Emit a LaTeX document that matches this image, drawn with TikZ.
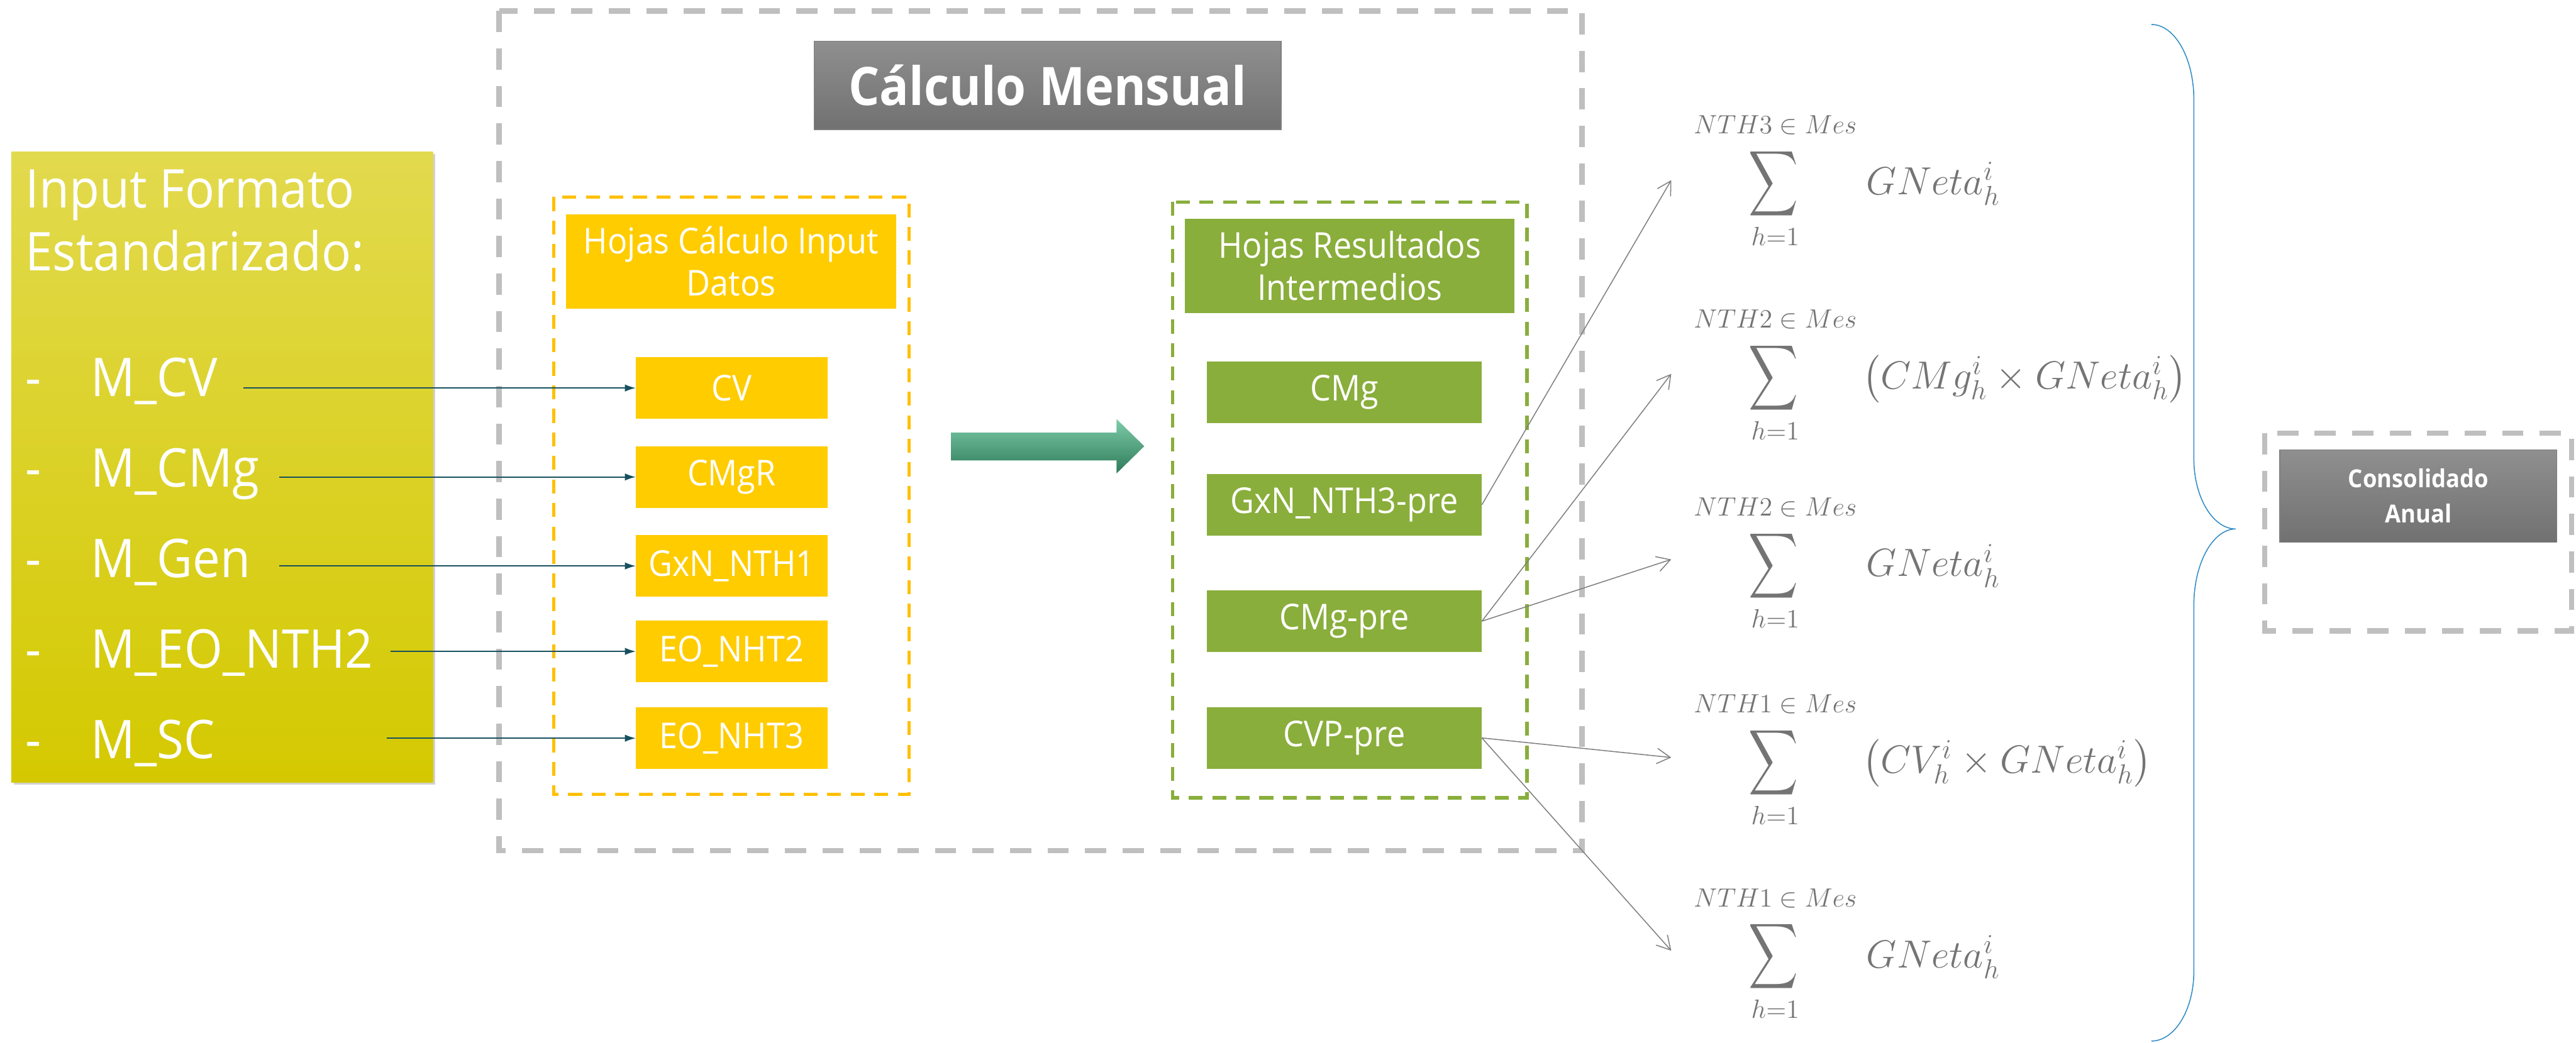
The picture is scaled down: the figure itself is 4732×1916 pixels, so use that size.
\RequirePackage{fix-cm}
\documentclass[tikz,border=0pt]{standalone}
\usepackage{amsmath}
\usepackage{graphicx}
\usepackage[no-math]{fontspec}
\setmainfont{Open Sans}[FakeStretch=0.92]
\usetikzlibrary{arrows.meta,shadows}

\definecolor{yfill}{HTML}{FFCC00}
\definecolor{ydash}{HTML}{FFC000}
\definecolor{gfill}{HTML}{89AE3B}
\definecolor{framegray}{HTML}{BFBFBF}
\definecolor{feedteal}{HTML}{17505E}
\definecolor{linkgray}{HTML}{7F7F7F}
\definecolor{mgray}{HTML}{747474}
\definecolor{bracecol}{HTML}{2E8BC4}
\definecolor{ytop}{HTML}{E2DA4E}
\definecolor{ymid}{HTML}{E2D91E}
\definecolor{ybot}{HTML}{D4C900}
\definecolor{hdtop}{HTML}{8F8F8F}
\definecolor{hdbot}{HTML}{717171}
\definecolor{artop}{HTML}{7ECBA8}
\definecolor{arbot}{HTML}{2E7B5A}

% summation sign stretched to the tall, narrow shape used in the formulas
\newcommand{\bigsum}{\resizebox*{0.91cm}{1.34cm}{$\displaystyle\sum$}}

\begin{document}
\begin{tikzpicture}[x=0.01cm,y=-0.01cm,
  box/.style={rectangle, inner sep=0pt, outer sep=0pt, text=white, align=center},
  sheet/.style={box, font=\fontsize{18.6}{22}\selectfont},
  ysheet/.style={sheet, fill=yfill, minimum width=3.52cm, minimum height=1.13cm},
  gsheet/.style={sheet, fill=gfill, minimum width=5.05cm, minimum height=1.13cm},
  yhead/.style={sheet, fill=yfill, minimum width=6.06cm, minimum height=1.73cm},
  ghead/.style={sheet, fill=gfill, minimum width=6.05cm, minimum height=1.73cm},
  titlebox/.style={box, top color=hdtop, bottom color=hdbot, draw=linkgray, line width=0.4pt},
  frame/.style={draw=framegray, line width=2.85pt, dash pattern=on 11.1pt off 8.5pt},
  yframe/.style={draw=ydash, line width=1.7pt, dash pattern=on 7.3pt off 5pt},
  gframe/.style={draw=gfill, line width=1.7pt, dash pattern=on 7.3pt off 5pt},
  itxt/.style={inner sep=0pt, anchor=base west, text=white, font=\fontsize{27.9}{33}\selectfont},
  feed/.style={draw=feedteal, line width=0.6pt, -{Latex[length=5.7pt,width=3.8pt]}},
  link/.style={draw=linkgray, line width=0.5pt, -{Straight Barb[length=7pt,width=8pt]}},
  mlab/.style={inner sep=0pt, anchor=base, text=mgray, font=\fontsize{13.8}{16}\selectfont},
  msig/.style={inner sep=0pt, text=mgray},
  mterm/.style={inner sep=0pt, anchor=base west, text=mgray, font=\fontsize{20.5}{24}\selectfont}
]
\useasboundingbox (0,0) rectangle (4732,1916);

% ---------- input block ----------
\node[box, minimum width=7.74cm, minimum height=11.58cm,
      top color=ytop, middle color=ymid, bottom color=ybot,
      drop shadow={shadow xshift=1.2pt, shadow yshift=-1.2pt, opacity=0.3, fill=black!60}]
      (input) at (408,858) {};
\node[itxt] (inA) at (46,382) {Input Formato};
\node[itxt] (inB) at (46,497) {Estandarizado:};
\node[itxt] (d1) at (46,728) {-};
\node[itxt] (d2) at (46,895) {-};
\node[itxt] (d3) at (46,1061) {-};
\node[itxt] (d4) at (46,1228) {-};
\node[itxt] (d5) at (46,1394) {-};
\node[itxt] (mcv)  at (166,728)  {M\_CV};
\node[itxt] (mcmg) at (166,895)  {M\_CMg};
\node[itxt] (mgen) at (166,1061) {M\_Gen};
\node[itxt] (meo)  at (166,1228) {M\_EO\_NTH2};
\node[itxt] (msc)  at (166,1394) {M\_SC};

% ---------- monthly calculation ----------
\draw[frame] (917,20) rectangle (2906,1563);
\node[titlebox, minimum width=8.57cm, minimum height=1.62cm,
      font=\fontsize{27.7}{32}\selectfont\bfseries] (mensual) at (1924.5,157) {Cálculo Mensual};

% input sheets
\draw[yframe] (1017,362) rectangle (1670,1460);
\node[yhead] (yh) at (1343,480.5) {Hojas Cálculo Input\\Datos};
\node[ysheet] (cv)   at (1344,713)    {CV};
\node[ysheet] (cmgr) at (1344,876.5)  {CMgR};
\node[ysheet] (gxn1) at (1344,1040)   {GxN\_NTH1};
\node[ysheet] (eo2)  at (1344,1197)   {EO\_NHT2};
\node[ysheet] (eo3)  at (1344,1356.5) {EO\_NHT3};

% intermediate results
\draw[gframe] (2154,371) rectangle (2805,1466);
\node[ghead] (gh) at (2479.5,488.5) {Hojas Resultados\\Intermedios};
\node[gsheet] (cmg)    at (2469.5,720.5)  {CMg};
\node[gsheet] (gxn3)   at (2469.5,927.5)  {GxN\_NTH3-pre};
\node[gsheet] (cmgpre) at (2469.5,1141.5) {CMg-pre};
\node[gsheet] (cvppre) at (2469.5,1356)   {CVP-pre};

% block arrow between the two sheet groups
\path[top color=artop, bottom color=arbot]
  (1747,795) -- (2051,795) -- (2051,770) -- (2102,820) -- (2051,870)
  -- (2051,846) -- (1747,846) -- cycle;

% feeds from the standard input files
\coordinate (s1) at (447,713);
\coordinate (s2) at (513,876.5);
\coordinate (s3) at (513,1040);
\coordinate (s4) at (717,1197);
\coordinate (s5) at (710,1356.5);
\draw[feed] (s1) -- (cv.west);
\draw[feed] (s2) -- (cmgr.west);
\draw[feed] (s3) -- (gxn1.west);
\draw[feed] (s4) -- (eo2.west);
\draw[feed] (s5) -- (eo3.west);

% ---------- monthly sums ----------
\node[mlab] (lab1) at (3261,246) {$NTH3\in Mes$};
\node[msig] (sig1) at (3258,337.5) {\bigsum};
\node[mlab] (lim1) at (3261,451) {$h{=}1$};
\node[mterm] (term1) at (3428,357) {$GNeta_h^i$};

\node[mlab] (lab2) at (3261,603) {$NTH2\in Mes$};
\node[msig] (sig2) at (3258,694.5) {\bigsum};
\node[mlab] (lim2) at (3261,808) {$h{=}1$};
\node[mterm] (term2) at (3421,714) {$\left(CMg_h^i\times GNeta_h^i\right)$};

\node[mlab] (lab3) at (3261,948) {$NTH2\in Mes$};
\node[msig] (sig3) at (3258,1039.5) {\bigsum};
\node[mlab] (lim3) at (3261,1153) {$h{=}1$};
\node[mterm] (term3) at (3428,1059) {$GNeta_h^i$};

\node[mlab] (lab4) at (3261,1310) {$NTH1\in Mes$};
\node[msig] (sig4) at (3258,1401.5) {\bigsum};
\node[mlab] (lim4) at (3261,1515) {$h{=}1$};
\node[mterm] (term4) at (3421,1420) {$\left(CV_h^i\times GNeta_h^i\right)$};

\node[mlab] (lab5) at (3261,1666) {$NTH1\in Mes$};
\node[msig] (sig5) at (3258,1757.5) {\bigsum};
\node[mlab] (lim5) at (3261,1871) {$h{=}1$};
\node[mterm] (term5) at (3428,1778) {$GNeta_h^i$};

\coordinate (tip1) at (3070,331);
\coordinate (tip2) at (3070,687);
\coordinate (tip3) at (3070,1028);
\coordinate (tip4) at (3070,1392);
\coordinate (tip5) at (3070,1747);
\draw[link] (gxn3.east) -- (tip1);
\draw[link] (cmgpre.east) -- (tip2);
\draw[link] (cmgpre.east) -- (tip3);
\draw[link] (cvppre.east) -- (tip4);
\draw[link] (cvppre.east) -- (tip5);

% ---------- annual consolidation ----------
\draw[bracecol, line width=0.5pt]
  (3952,45) .. controls (3995,45) and (4030,107) .. (4030,183)
  -- (4030,843) .. controls (4030,914) and (4065,972) .. (4107,972)
  .. controls (4065,972) and (4030,1035) .. (4030,1112)
  -- (4030,1785) .. controls (4030,1855) and (3995,1913) .. (3952,1913);
\draw[frame] (4160,796) rectangle (4724,1159);
\node[titlebox, minimum width=5.09cm, minimum height=1.69cm,
      font=\fontsize{13}{18.5}\selectfont\bfseries] (anual) at (4442.5,911.5) {Consolidado\\Anual};
\end{tikzpicture}
\end{document}
